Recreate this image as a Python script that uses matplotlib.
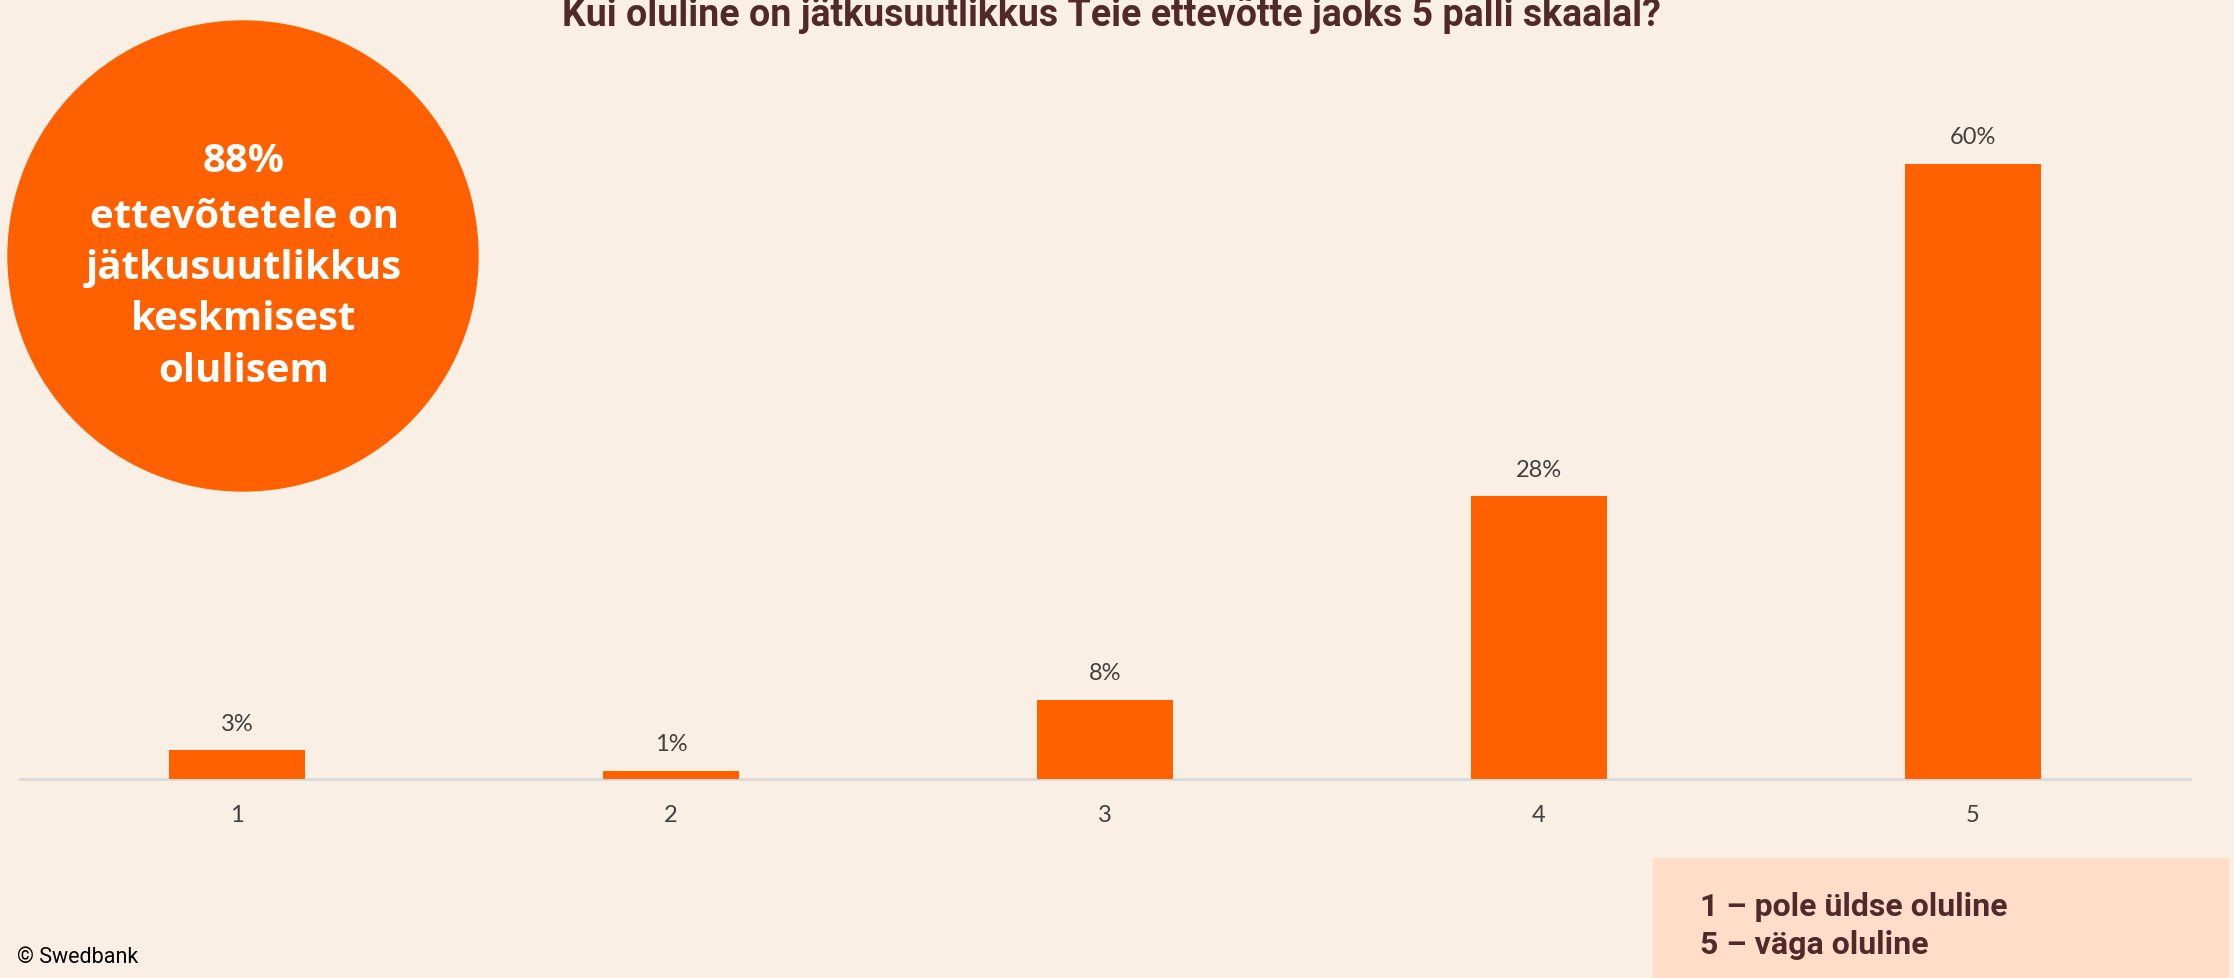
import matplotlib.pyplot as plt
from matplotlib.patches import Circle, Rectangle

# Andmed (tulpade kõrgused loetud pildilt, sildid ümardatud)
kategooriad = ['1', '2', '3', '4', '5']
osakaalud = [2.8, 0.8, 7.7, 27.6, 60.0]
sildid = ['3%', '1%', '8%', '28%', '60%']

pealkiri = 'Kui oluline on jätkusuutlikkus Teie ettevõtte jaoks 5 palli skaalal?'
ringi_read = ['88%', 'ettevõtetele on', 'jätkusuutlikkus', 'keskmisest', 'olulisem']
selgitus = ['1 – pole üldse oluline', '5 – väga oluline']

# Värvid
taust = '#FAEFE5'
oranz = '#FF6100'
pruun = '#52292B'
hall_tekst = '#404040'

fig = plt.figure(figsize=(22.34, 9.79), dpi=100)
fig.set_facecolor(taust)

# Tulpdiagramm
ax = fig.add_axes([20 / 2234, 199 / 979, 2170 / 2234, 717.5 / 979])
ax.set_facecolor(taust)
x = range(len(kategooriad))
tulbad = ax.bar(x, osakaalud, width=0.313, color=oranz, zorder=3)
ax.set_xlim(-0.5, 4.5)
ax.set_ylim(0, 70)

for tulp, silt in zip(tulbad, sildid):
    ax.annotate(silt, (tulp.get_x() + tulp.get_width() / 2, tulp.get_height()),
                xytext=(0, 19.5), textcoords='offset points', ha='center', va='center',
                fontsize=17, family='Lato', color=hall_tekst)

ax.set_xticks(list(x))
ax.set_xticklabels(kategooriad, fontsize=17, family='Lato', color=hall_tekst)
ax.tick_params(axis='x', length=0, pad=18)
ax.set_yticks([])
for s in ['top', 'left', 'right']:
    ax.spines[s].set_visible(False)
ax.spines['bottom'].set_color('#D9D9D9')
ax.spines['bottom'].set_linewidth(2)

# Kattekiht ringi ja selgituse jaoks (pikslites)
ov = fig.add_axes([0, 0, 1, 1])
ov.set_xlim(0, 2234)
ov.set_ylim(0, 979)
ov.axis('off')
ov.patch.set_alpha(0)

ov.add_patch(Circle((243, 979 - 257), 235, color=oranz))
read_y = [162, 218, 268, 320, 372]
for rida, yy in zip(ringi_read, read_y):
    ov.text(244, 979 - yy, rida, ha='center', va='center', fontsize=29,
            family='Open Sans', fontweight='bold', color='white')

ov.add_patch(Rectangle((1653, 0), 2228 - 1653, 120, color='#FFDDC9'))
ov.text(1700, 979 - 907, selgitus[0], ha='left', va='center', fontsize=23,
        family='Roboto', fontweight='bold', color=pruun)
ov.text(1700, 979 - 945, selgitus[1], ha='left', va='center', fontsize=23,
        family='Roboto', fontweight='bold', color=pruun)

# Pealkiri (ülevalt osaliselt ära lõigatud)
fig.text(1111 / 2234, 1 - 26 / 979, pealkiri, ha='center', va='baseline',
         fontsize=27, family='Roboto', fontweight='bold', color=pruun)

fig.text(17 / 2234, 1 - 958 / 979, '© Swedbank', ha='left', va='center',
         fontsize=15.5, family='Roboto', color='black')

plt.savefig('out.png', dpi=100, facecolor=taust)
